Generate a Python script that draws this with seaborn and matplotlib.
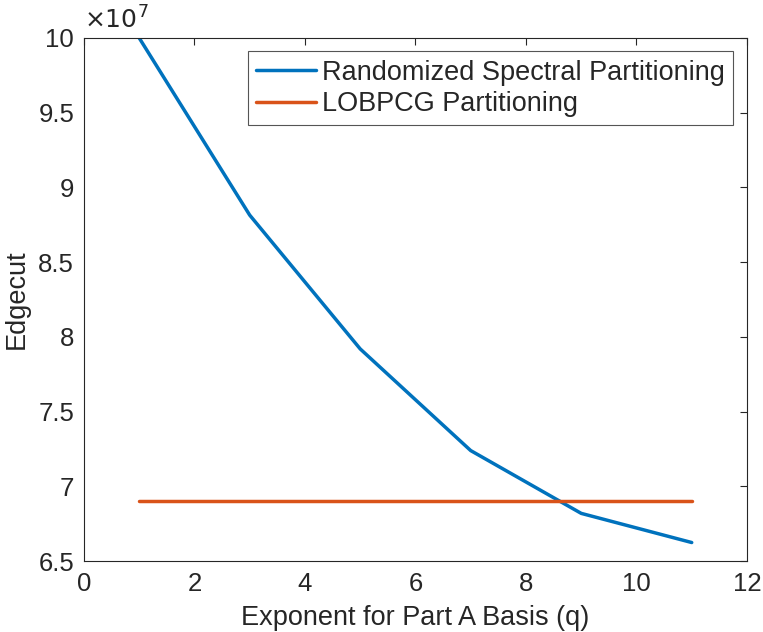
import pandas as pd
import seaborn as sns
import matplotlib.pyplot as plt
from matplotlib.ticker import FuncFormatter

q = [1, 3, 5, 7, 9, 11]
randomized = [10.0e7, 8.815e7, 7.92e7, 7.24e7, 6.82e7, 6.625e7]
lobpcg = [6.90e7] * len(q)
labels = ['Randomized Spectral Partitioning', 'LOBPCG Partitioning']

df = pd.DataFrame({
    'q': q + q,
    'edgecut': randomized + lobpcg,
    'method': [labels[0]] * len(q) + [labels[1]] * len(q),
})

sns.set_style('white')
plt.rcParams['font.family'] = ['Liberation Sans', 'DejaVu Sans']

fig = plt.figure(figsize=(7.63, 6.32), dpi=100)
ax = fig.add_axes([0.110, 0.112, 0.869, 0.828])

sns.lineplot(data=df, x='q', y='edgecut', hue='method', ax=ax,
             palette=['#0072BD', '#D95319'], linewidth=2.5)

ax.set_xlim(0, 12)
ax.set_ylim(6.5e7, 10e7)
ax.set_xticks(range(0, 13, 2))
ax.set_yticks([6.5e7, 7e7, 7.5e7, 8e7, 8.5e7, 9e7, 9.5e7, 10e7])
ax.yaxis.set_major_formatter(FuncFormatter(lambda v, p: '%g' % (v / 1e7)))
ax.text(0.0, 1.008, r'$\times 10^{7}$', transform=ax.transAxes,
        fontsize=18, color='#262626', va='bottom', ha='left')

ax.tick_params(direction='in', length=5, width=0.8, colors='#262626',
               labelsize=18.5, top=True, right=True, labelcolor='#262626')
ax.tick_params(axis='x', pad=8)
ax.tick_params(axis='y', pad=7)
for s in ax.spines.values():
    s.set_color('#262626')
    s.set_linewidth(0.8)

ax.set_xlabel('Exponent for Part A Basis (q)', fontsize=19.5, color='#262626', labelpad=6)
ax.set_ylabel('Edgecut', fontsize=19.5, color='#262626', labelpad=6)

leg = ax.legend(loc='upper right', fontsize=19.5, frameon=True, fancybox=False,
                framealpha=1, edgecolor='#555555', borderaxespad=0.5,
                handlelength=2.2, borderpad=0.3, labelspacing=0.2,
                handletextpad=0.25)
leg.get_frame().set_linewidth(0.8)

plt.savefig('out.png', dpi=100)
